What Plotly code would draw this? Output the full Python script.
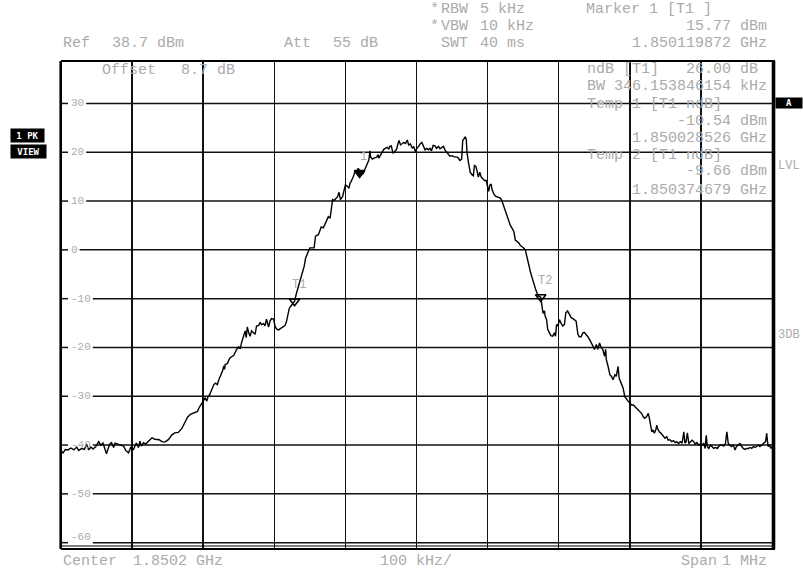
import plotly.graph_objects as go

# analyzer settings
CENTER_GHZ = 1.8502
SPAN_KHZ = 1000
REF_DBM = 38.7
RANGE_DB = 100

# trace 1 (peak view), frequency offset from center in kHz and level in dBm
freq_khz = [
    -500, -497, -494, -490, -486, -482, -478, -475, -471, -467,
    -464, -461, -458, -455, -451, -447, -444, -441, -438, -436,
    -433, -431, -429, -426, -424, -420, -417, -412, -409, -405,
    -402, -398, -396, -394, -391, -389, -387, -384, -381, -377,
    -372, -368, -362, -358, -354, -349, -344, -340, -335, -330,
    -326, -322, -318, -313, -308, -306, -304, -301, -299, -297,
    -295, -293, -291, -287, -285, -283, -280, -278, -276, -273,
    -271, -270, -269, -266, -264, -262, -257, -255, -253, -250,
    -248, -246, -243, -241, -239.5, -238, -236, -234, -232, -229,
    -227, -225, -222, -220, -218, -215, -213, -211, -208, -206,
    -204, -201, -199, -197, -194, -192, -190, -187, -185, -183,
    -180.5, -179, -176, -174, -171.5, -169, -167, -165, -162, -158,
    -156, -152, -150, -144, -142, -138, -136, -134, -131, -129,
    -126, -124, -121.5, -120, -118, -116, -114, -111, -109, -107,
    -104, -102, -100, -97, -95, -93.5, -92, -89, -87, -84,
    -82, -80, -78, -76, -74, -72, -69, -67, -65.5, -64.5,
    -62, -60, -56, -54, -53, -51, -48, -46, -44, -41,
    -39, -37.5, -35.5, -33, -31, -28, -26, -24.5, -22.5, -20,
    -18, -15.5, -13, -11, -8.5, -6, -4, -1.5, 0.5, 3,
    5, 7.5, 10, 12, 14.5, 17, 19, 21, 23.5, 26,
    28, 31, 33, 35.5, 38, 40, 42.5, 45, 47, 50,
    52, 57, 59, 61, 63.5, 65, 67, 68.5, 70, 71,
    73, 75.5, 78, 80, 81.5, 83.5, 85, 87, 89, 91,
    93.5, 95.5, 98, 100, 101.5, 103, 105, 106, 108.5, 111,
    114, 118, 120, 122.5, 125, 127.5, 130, 132, 134.5, 137,
    139, 141.5, 144, 146, 150, 153, 156, 158, 160.5, 163,
    165.5, 168, 170, 172, 174.7, 176, 178, 180, 181, 183,
    184.5, 187, 189, 191.5, 194, 195.5, 197, 199, 201, 203,
    205.5, 208, 210, 212.5, 215, 217.5, 220, 222, 224.5, 227,
    229, 231.5, 234, 236, 238.5, 241, 243.5, 246, 248, 250.5,
    253, 255, 257.5, 260, 262, 264.5, 266, 267, 269.5, 272,
    274, 276.5, 279, 281, 283.5, 285, 287, 288.5, 290.5, 293,
    295.5, 298, 300, 302.5, 305, 307, 309.5, 312, 314, 316.5,
    319, 321, 323.5, 326, 327.5, 329, 331, 333, 334.5, 336.5,
    338, 339, 341.5, 344, 346, 347.5, 349.5, 352, 354, 356.5,
    359, 361.5, 364, 366, 368.5, 371, 373.5, 376, 377.5, 379,
    381, 383, 385, 387.5, 390, 392, 394.5, 397, 399, 401.5,
    404, 406, 407.5, 409, 411, 413.5, 415.5, 418, 420.5, 423,
    425, 427.5, 430, 432, 434.5, 436.5, 438.5, 440.5, 443, 445.5,
    448, 450, 452.5, 455, 457.5, 459.5, 462, 464.5, 467, 469,
    471.5, 474, 476, 478.5, 481, 483, 485.5, 489, 491, 492.5,
    494.5, 496.5, 498.5, 500,
]
level_dbm = [
    -41.2, -41.6, -40.9, -41.0, -40.6, -41.0, -40.4, -41.1, -40.7, -40.9,
    -39.8, -41.0, -40.4, -40.8, -40.3, -39.3, -40.0, -39.6, -40.9, -41.8,
    -40.4, -39.7, -39.5, -40.5, -39.6, -39.8, -40.0, -40.2, -41.1, -41.6,
    -40.5, -40.9, -40.2, -39.6, -40.5, -39.2, -40.2, -39.5, -39.8, -39.2,
    -38.5, -38.8, -38.9, -39.3, -39.4, -38.9, -37.9, -37.5, -37.4, -36.6,
    -35.3, -34.3, -33.7, -33.4, -33.1, -32.4, -31.9, -31.4, -30.8, -30.3,
    -31.0, -30.0, -29.7, -28.3, -27.6, -27.3, -27.6, -26.6, -25.9, -24.9,
    -23.8, -24.5, -23.5, -23.3, -22.6, -22.1, -21.6, -21.0, -20.4, -19.9,
    -20.3, -19.0, -17.7, -16.6, -18.0, -15.8, -17.0, -17.7, -16.6, -17.1,
    -17.3, -15.6, -15.5, -14.9, -15.3, -15.1, -15.6, -14.2, -15.8, -14.6,
    -14.1, -14.2, -15.6, -16.2, -16.4, -16.2, -16.0, -15.8, -15.5, -14.8,
    -13.2, -12.0, -11.4, -11.0, -10.5, -9.0, -7.8, -7.0, -5.4, -3.4,
    -1.7, -0.3, 0.4, 0.4, 2.8, 3.1, 4.1, 4.7, 4.5, 5.1,
    6.2, 6.8, 6.5, 8.2, 10.3, 10.1, 10.4, 10.9, 11.8, 10.3,
    10.9, 12.3, 13.3, 13.0, 12.6, 13.7, 14.0, 15.0, 15.8, 16.0,
    16.7, 16.3, 15.7, 15.4, 16.0, 16.7, 17.4, 18.4, 20.3, 19.0,
    18.6, 18.8, 19.0, 19.5, 18.8, 19.3, 20.3, 20.6, 20.8, 21.0,
    20.6, 21.2, 21.3, 19.8, 20.1, 20.6, 21.8, 22.4, 21.5, 21.7,
    22.0, 21.8, 22.5, 21.5, 21.7, 20.8, 21.2, 20.1, 20.8, 21.2,
    21.7, 22.0, 21.0, 20.5, 20.8, 20.5, 20.8, 20.3, 21.4, 21.3,
    20.8, 21.2, 20.7, 21.0, 21.2, 20.5, 20.1, 19.5, 19.2, 19.3,
    19.1, 19.0, 18.8, 18.3, 18.6, 22.4, 22.7, 23.1, 22.7, 20.0,
    18.0, 15.9, 15.4, 15.2, 17.3, 17.1, 16.3, 14.9, 15.9, 14.9,
    14.6, 14.2, 14.2, 12.5, 12.0, 13.2, 13.5, 12.5, 11.5, 11.0,
    10.8, 10.6, 10.1, 9.1, 7.8, 6.7, 5.7, 5.0, 4.4, 3.7,
    2.0, 1.7, 1.4, 0.9, 0.5, 0.0, -2.2, -3.1, -4.7, -6.0,
    -7.0, -8.3, -9.0, -9.5, -9.7, -11.5, -13.0, -12.5, -13.6, -14.3,
    -16.3, -17.0, -17.6, -17.7, -17.0, -17.7, -15.3, -15.6, -14.3, -14.9,
    -15.6, -15.3, -12.9, -12.5, -13.2, -13.9, -14.1, -14.4, -14.6, -17.3,
    -17.8, -17.8, -17.0, -16.9, -17.3, -17.8, -18.4, -19.1, -19.8, -20.4,
    -19.4, -20.4, -19.1, -20.1, -20.4, -21.8, -20.4, -22.5, -23.9, -25.6,
    -25.9, -26.6, -25.6, -25.9, -23.9, -26.3, -27.0, -27.7, -28.3, -30.1,
    -30.7, -31.1, -31.4, -31.8, -31.8, -32.1, -32.5, -32.8, -33.1, -33.5,
    -34.2, -34.5, -34.2, -33.5, -34.5, -35.9, -37.3, -36.9, -37.6, -36.9,
    -35.9, -36.6, -37.3, -37.6, -37.9, -38.3, -38.6, -38.3, -39.0, -38.9,
    -39.3, -39.1, -39.5, -39.3, -39.7, -39.3, -39.6, -37.3, -39.6, -39.4,
    -37.5, -39.7, -39.3, -39.0, -39.3, -39.8, -39.5, -40.0, -39.8, -40.0,
    -39.7, -40.7, -38.0, -40.3, -40.7, -40.0, -40.3, -40.7, -40.5, -40.7,
    -40.3, -40.0, -40.0, -40.2, -39.7, -37.3, -39.7, -40.0, -40.3, -40.0,
    -41.0, -40.3, -40.0, -39.7, -40.3, -40.7, -40.9, -40.7, -40.7, -40.5,
    -40.7, -40.3, -40.5, -40.3, -40.0, -40.3, -40.0, -39.7, -39.3, -37.6,
    -40.3, -40.0, -40.7, -40.3,
]
assert len(freq_khz) == len(level_dbm)

# markers
marker_names = ["1", "T1", "T2"]
marker_freq_ghz = [1.850119872, 1.850028526, 1.850374679]
marker_level_dbm = [15.77, -10.54, -9.66]

y_ticks = [30, 20, 10, 0, -10, -20, -30, -40, -50, -60]

W, H = 803, 574
L, R, T, B = 61, 772, 61, 549
GRAY = "#ababab"
MONO = "Liberation Mono"


def px(x, y):
    return (x - L) / (R - L), (B - y) / (B - T)


fig = go.Figure()

fig.add_trace(go.Scatter(
    x=freq_khz, y=level_dbm, mode="lines",
    line=dict(color="black", width=1.4), hoverinfo="skip",
))

mk_x = [(f - CENTER_GHZ) * 1e6 for f in marker_freq_ghz]
fig.add_trace(go.Scatter(
    x=mk_x, y=marker_level_dbm, mode="markers",
    marker=dict(
        symbol=["triangle-down", "triangle-down-open", "triangle-down-open"],
        size=9, color="black", line=dict(color="black", width=1.6),
    ),
    hoverinfo="skip",
))

shapes = []
# horizontal grid, broken where the level labels sit
for t in y_ticks:
    lab = str(t)
    end = 70 + len(lab) * 6.6 + 3
    shapes.append(dict(type="line", xref="paper", yref="y", x0=0, x1=px(68, 0)[0],
                       y0=t, y1=t, line=dict(color="#111", width=1.5), layer="below"))
    shapes.append(dict(type="line", xref="paper", yref="y", x0=px(end, 0)[0], x1=1,
                       y0=t, y1=t, line=dict(color="#111", width=1.5), layer="below"))


# frame
def hline(y, w):
    shapes.append(dict(type="line", xref="paper", yref="paper", x0=0, x1=px(775, 0)[0],
                       y0=px(0, y)[1], y1=px(0, y)[1], line=dict(color="black", width=w)))


def vline(x, w):
    shapes.append(dict(type="line", xref="paper", yref="paper", x0=px(x, 0)[0], x1=px(x, 0)[0],
                       y0=0, y1=1, line=dict(color="black", width=w)))


hline(61, 2.2)
hline(546, 1.2)
hline(549, 2)
vline(60.7, 2.6)
vline(773.5, 3.6)

annotations = []


def text(s, x, y, anchor="left", size=15, color=GRAY, **kw):
    ax, ay = px(x, y)
    annotations.append(dict(
        text=s, x=ax, y=ay, xref="paper", yref="paper", xanchor=anchor, yanchor="middle",
        showarrow=False, font=dict(family=MONO, size=size, color=color), borderpad=0, **kw,
    ))


def badge(s, x0, x1, y0, y1, size=9):
    ax, ay = px((x0 + x1) / 2, (y0 + y1) / 2)
    annotations.append(dict(
        text="<b>" + s + "</b>", x=ax, y=ay, xref="paper", yref="paper",
        xanchor="center", yanchor="middle", showarrow=False, bgcolor="black",
        width=x1 - x0, height=y1 - y0, borderpad=0,
        font=dict(family="DejaVu Sans Mono", size=size, color="white"),
    ))


# header
text("Ref", 62, 44)
text("38.7 dBm", 111, 44)
text("Att", 283, 44)
text("55 dB", 332, 44)
text("*", 429, 9)
text("RBW", 440, 9)
text("5 kHz", 479, 9)
text("*", 429, 27)
text("VBW", 440, 27)
text("10 kHz", 479, 27)
text("SWT", 440, 44)
text("40 ms", 479, 44)
text("Marker 1 [T1 ]", 585, 10)
text("15.77 dBm", 768, 27, "right")
text("1.850119872 GHz", 768, 44, "right")

# inside the graticule
text("Offset", 101, 71)
text("8.7 dB", 180, 71)
text("ndB [T1]", 586, 69)
text("26.00 dB", 759, 69, "right")
text("BW 346.153846154 kHz", 768, 86, "right")
text("Temp 1 [T1 ndB]", 586, 104)
text("-10.54 dBm", 768, 121, "right")
text("1.850028526 GHz", 768, 138, "right")
text("Temp 2 [T1 ndB]", 586, 155)
text("-9.66 dBm", 768, 172, "right")
text("1.850374679 GHz", 768, 190, "right")

# footer
text("Center", 62, 561)
text("1.8502 GHz", 132, 561)
text("100 kHz/", 379, 561)
text("Span", 680, 561)
text("1 MHz", 768, 561, "right")

# side labels
badge("1 PK", 11, 44, 129, 142)
badge("VIEW", 11, 46, 145, 158)
badge("A", 776, 802, 98, 108)
text("LVL", 777, 166, size=12)
text("3DB", 777, 335, size=12)

# level labels (the lowest one sits a little above its line, clear of the frame)
for t in y_ticks:
    annotations.append(dict(
        text=str(t), x=px(70, 0)[0], y=t, xref="paper", yref="y", xanchor="left",
        yanchor="middle", showarrow=False, borderpad=0, yshift=6 if t == y_ticks[-1] else 0,
        font=dict(family=MONO, size=11, color=GRAY),
    ))

# marker labels
for name, mx, my in zip(marker_names, mk_x, marker_level_dbm):
    annotations.append(dict(
        text=name, x=mx, y=my, xref="x", yref="y", showarrow=False,
        xshift=4, yshift=16, font=dict(family=MONO, size=12, color=GRAY),
    ))

fig.update_layout(
    width=W, height=H,
    margin=dict(l=L, r=W - R, t=T, b=H - B, pad=0),
    paper_bgcolor="white", plot_bgcolor="white",
    showlegend=False,
    shapes=shapes, annotations=annotations,
    xaxis=dict(range=[-SPAN_KHZ / 2, SPAN_KHZ / 2], tick0=-500, dtick=100,
               showgrid=True, gridcolor="#111", gridwidth=1.5,
               showticklabels=False, zeroline=False, showline=False, fixedrange=True),
    yaxis=dict(range=[REF_DBM - RANGE_DB, REF_DBM], tickvals=y_ticks,
               showgrid=False, showticklabels=False, zeroline=False,
               showline=False, fixedrange=True),
)

# the page body has a default 8px margin; drop it so the figure fills the window
fig.write_html(
    "out.html",
    config={"displayModeBar": False, "staticPlot": True},
    post_script="document.body.style.margin='0';",
)
